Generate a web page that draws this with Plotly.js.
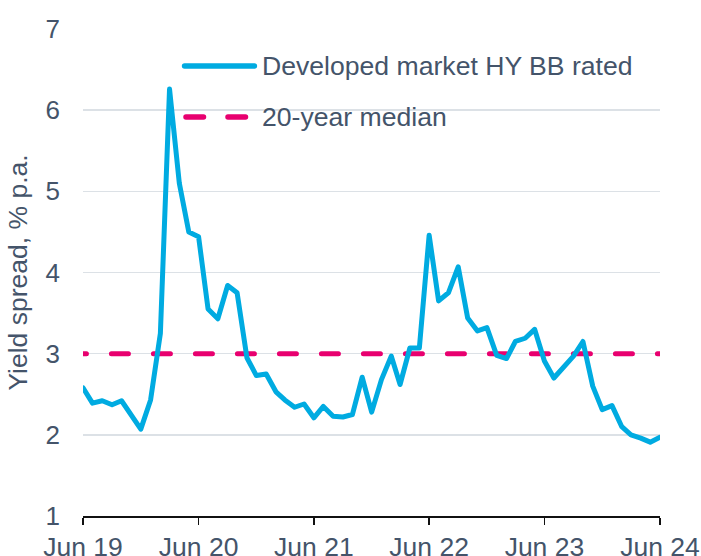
<!DOCTYPE html>
<html>
<head>
<meta charset="utf-8">
<script src="https://cdn.plot.ly/plotly-3.0.1.min.js"></script>
<style>
html,body{margin:0;padding:0;background:#fff;}
#chart{width:701px;height:556px;}
.scatterlayer .js-line{stroke-linecap:round;stroke-linejoin:round;}
.shapelayer path{stroke-linecap:round;}
</style>
</head>
<body>
<div id="chart"></div>
<script>
// Monthly observations, Jun 2019 .. Jun 2024
const startYear = 2019, startMonth = 6, nMonths = 61;
const spreadValues = [
  2.58, 2.39, 2.42, 2.37, 2.42, 2.24, 2.07, 2.43, 3.25, 6.26,
  5.10, 4.50, 4.44, 3.55, 3.43, 3.84, 3.75, 2.95, 2.73, 2.75,
  2.53, 2.43, 2.34, 2.38, 2.21, 2.35, 2.23, 2.22, 2.25, 2.71,
  2.28, 2.68, 2.97, 2.62, 3.07, 3.07, 4.46, 3.65, 3.75, 4.07,
  3.44, 3.28, 3.32, 2.98, 2.94, 3.15, 3.19, 3.30, 2.91, 2.70,
  2.83, 2.97, 3.15, 2.60, 2.31, 2.36, 2.10, 2.00, 1.96, 1.91,
  1.97
];
const medianValue = 3.0;
const medianDates = ['2019-04-19', '2024-06-01'];
const tickDates = ['2019-06-01','2020-06-01','2021-06-01','2022-06-01','2023-06-01','2024-06-01'];
const tickLabels = ['Jun 19','Jun 20','Jun 21','Jun 22','Jun 23','Jun 24'];
const seriesNames = ['Developed market HY BB rated', '20-year median'];
const yTitle = 'Yield spread, % p.a.';

const dates = [];
for (let i = 0; i < nMonths; i++) {
  const m0 = startMonth - 1 + i;
  const y = startYear + Math.floor(m0 / 12);
  const m = (m0 % 12) + 1;
  dates.push(y + '-' + String(m).padStart(2, '0') + '-01');
}

const BLUE = '#00ABE1';
const PINK = '#E8006F';
const TEXT = '#44546A';
const FONT = 'Arial, "Liberation Sans", sans-serif';

const traces = [
  {
    x: medianDates, y: medianDates.map(() => medianValue),
    type: 'scatter', mode: 'lines', name: seriesNames[1],
    line: {color: PINK, width: 5, dash: '17px,25px'},
    hoverinfo: 'skip', showlegend: false
  },
  {
    x: dates, y: spreadValues,
    type: 'scatter', mode: 'lines', name: seriesNames[0],
    line: {color: BLUE, width: 5},
    showlegend: false
  }
];

const layout = {
  width: 701, height: 556,
  margin: {l: 83, r: 41, t: 29, b: 40, pad: 0},
  paper_bgcolor: '#fff', plot_bgcolor: '#fff',
  font: {family: FONT, size: 26, color: TEXT},
  showlegend: false,
  xaxis: {
    type: 'date',
    range: [tickDates[0], tickDates[tickDates.length - 1]],
    tickvals: tickDates, ticktext: tickLabels,
    showgrid: false, zeroline: false,
    showline: true, linecolor: '#111', linewidth: 1.5,
    ticks: 'outside', ticklen: 7, tickwidth: 1.5, tickcolor: '#111',
    tickfont: {family: FONT, size: 26.5, color: TEXT},
    fixedrange: true
  },
  yaxis: {
    range: [1, 7], dtick: 1, tick0: 1,
    showgrid: true, gridcolor: '#DCE1E6', gridwidth: 1.5,
    zeroline: false, showline: false, ticks: '',
    ticklabelstandoff: 22,
    tickfont: {family: FONT, size: 26, color: TEXT},
    title: {text: yTitle, font: {family: FONT, size: 26.5, color: TEXT}, standoff: 10},
    fixedrange: true
  },
  shapes: [
    {type: 'line', xref: 'paper', yref: 'paper', x0: 0.176, x1: 0.297, y0: 0.924, y1: 0.924,
     line: {color: BLUE, width: 5.5}},
    {type: 'line', xref: 'paper', yref: 'paper', x0: 0.1785, x1: 0.2885, y0: 0.8193, y1: 0.8193,
     line: {color: PINK, width: 5.5, dash: '17.5px,24.5px'}}
  ],
  annotations: [
    {xref: 'paper', yref: 'paper', x: 0.3068, y: 0.924, xanchor: 'left', yanchor: 'middle',
     text: seriesNames[0], showarrow: false, font: {family: FONT, size: 26.6, color: TEXT}},
    {xref: 'paper', yref: 'paper', x: 0.3068, y: 0.8193, xanchor: 'left', yanchor: 'middle',
     text: seriesNames[1], showarrow: false, font: {family: FONT, size: 26.6, color: TEXT}}
  ]
};

Plotly.newPlot('chart', traces, layout, {staticPlot: true, displayModeBar: false});
</script>
</body>
</html>
